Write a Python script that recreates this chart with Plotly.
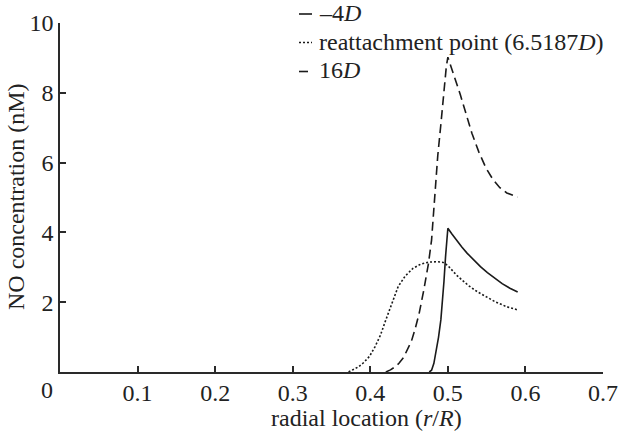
import plotly.graph_objects as go

# ---- data ----
r_m4 = [0.476, 0.479, 0.482, 0.485, 0.488, 0.491, 0.493, 0.495, 0.497, 0.499, 0.500,
        0.505, 0.511, 0.518, 0.525, 0.533, 0.542, 0.551, 0.560, 0.570, 0.580, 0.590]
c_m4 = [0.00, 0.05, 0.25, 0.60, 1.00, 1.50, 1.95, 2.60, 3.30, 3.85, 4.12,
        3.96, 3.78, 3.58, 3.40, 3.21, 3.02, 2.85, 2.69, 2.53, 2.40, 2.29]

r_re = [0.372, 0.378, 0.385, 0.392, 0.399, 0.406, 0.413, 0.420, 0.428, 0.436, 0.445,
        0.455, 0.465, 0.476, 0.487, 0.494, 0.500, 0.505, 0.511, 0.519, 0.527, 0.538,
        0.549, 0.562, 0.576, 0.590]
c_re = [0.00, 0.06, 0.15, 0.28, 0.45, 0.72, 1.05, 1.49, 2.00, 2.45, 2.75,
        2.97, 3.09, 3.15, 3.16, 3.14, 3.05, 2.92, 2.78, 2.62, 2.47, 2.30,
        2.16, 2.00, 1.87, 1.78]

r_16 = [0.420, 0.426, 0.432, 0.437, 0.443, 0.448, 0.453, 0.458, 0.463, 0.469, 0.475,
        0.479, 0.483, 0.487, 0.491, 0.495, 0.498, 0.500, 0.505, 0.510, 0.516, 0.523,
        0.531, 0.540, 0.549, 0.558, 0.567, 0.576, 0.584, 0.590]
c_16 = [0.00, 0.06, 0.15, 0.25, 0.42, 0.63, 0.88, 1.25, 1.68, 2.35, 3.11,
        3.78, 5.00, 6.20, 7.10, 8.10, 8.75, 9.02, 8.65, 8.35, 7.95, 7.42,
        6.84, 6.30, 5.85, 5.52, 5.28, 5.13, 5.05, 5.01]

x_ticks = [0.1, 0.2, 0.3, 0.4, 0.5, 0.6, 0.7]
x_ticklabels = ["0.1", "0.2", "0.3", "0.4", "0.5", "0.6", "0.7"]
y_ticks = [2, 4, 6, 8, 10]
y_ticklabels = ["2", "4", "6", "8", "10"]

series_names = ["\u20134<i>D</i>", "reattachment point (6.5187<i>D</i>)", "16<i>D</i>"]

# ---- layout geometry ----
W, H = 618, 432
ML, MR, MT, MB = 60, 15, 23, 60
PW, PH = W - ML - MR, H - MT - MB

def px(xp):
    return (xp - ML) / PW

def py(yp):
    return (H - MB - yp) / PH

LINE = "#1a1a1a"
AX = "#2a2a2a"
FONT = "Liberation Serif"

dashes = ["solid", "2px,2px", "9px,5px"]

fig = go.Figure()
for (xs, ys, d) in [(r_m4, c_m4, dashes[0]), (r_re, c_re, dashes[1]), (r_16, c_16, dashes[2])]:
    fig.add_trace(go.Scatter(x=xs, y=ys, mode="lines",
                             line=dict(color=LINE, width=1.6, dash=d),
                             showlegend=False, hoverinfo="skip"))

annotations = []
shapes = []
leg_y = [13, 41.5, 70.5]
for name, yy, d in zip(series_names, leg_y, dashes):
    annotations.append(dict(text=name, xref="paper", yref="paper", x=px(317), y=py(yy),
                            xanchor="left", yanchor="middle", showarrow=False,
                            font=dict(family=FONT, size=24, color="#222")))
    shapes.append(dict(type="line", xref="paper", yref="paper",
                       x0=px(299), x1=px(312), y0=py(yy + 1), y1=py(yy + 1),
                       line=dict(color=LINE, width=1.6, dash=d)))

# axis titles and the shared corner "0"
annotations.append(dict(text="radial location (<i>r</i>/<i>R</i>)", xref="paper", yref="paper",
                        x=px(366), y=py(418), xanchor="center", yanchor="middle",
                        showarrow=False, font=dict(family=FONT, size=24, color="#222")))
annotations.append(dict(text="NO concentration (nM)", xref="paper", yref="paper",
                        x=px(16), y=py(197), xanchor="center", yanchor="middle",
                        textangle=-90, showarrow=False,
                        font=dict(family=FONT, size=24, color="#222")))
annotations.append(dict(text="0", xref="paper", yref="paper",
                        x=px(46.5), y=py(390), xanchor="center", yanchor="middle",
                        showarrow=False, font=dict(family=FONT, size=24, color="#222")))

fig.update_layout(
    width=W, height=H,
    margin=dict(l=ML, r=MR, t=MT, b=MB, autoexpand=False),
    plot_bgcolor="white", paper_bgcolor="white",
    font=dict(family=FONT, size=24, color="#222"),
    showlegend=False,
    annotations=annotations,
    shapes=shapes,
)
fig.update_xaxes(range=[0, 0.7], tickvals=x_ticks, ticktext=x_ticklabels,
                 ticks="inside", ticklen=6, tickwidth=1.5, tickcolor=AX,
                 ticklabelstandoff=-2,
                 showline=True, linecolor=AX, linewidth=1.5, automargin=False,
                 showgrid=False, zeroline=False, fixedrange=True)
fig.update_yaxes(range=[0, 10], tickvals=y_ticks, ticktext=y_ticklabels,
                 ticks="inside", ticklen=6, tickwidth=1.5, tickcolor=AX,
                 showline=True, linecolor=AX, linewidth=1.5, automargin=False,
                 showgrid=False, zeroline=False, fixedrange=True)

fig.write_html("out.html", config={"displayModeBar": False},
               post_script="document.body.style.margin='0';document.body.style.overflow='hidden';")
